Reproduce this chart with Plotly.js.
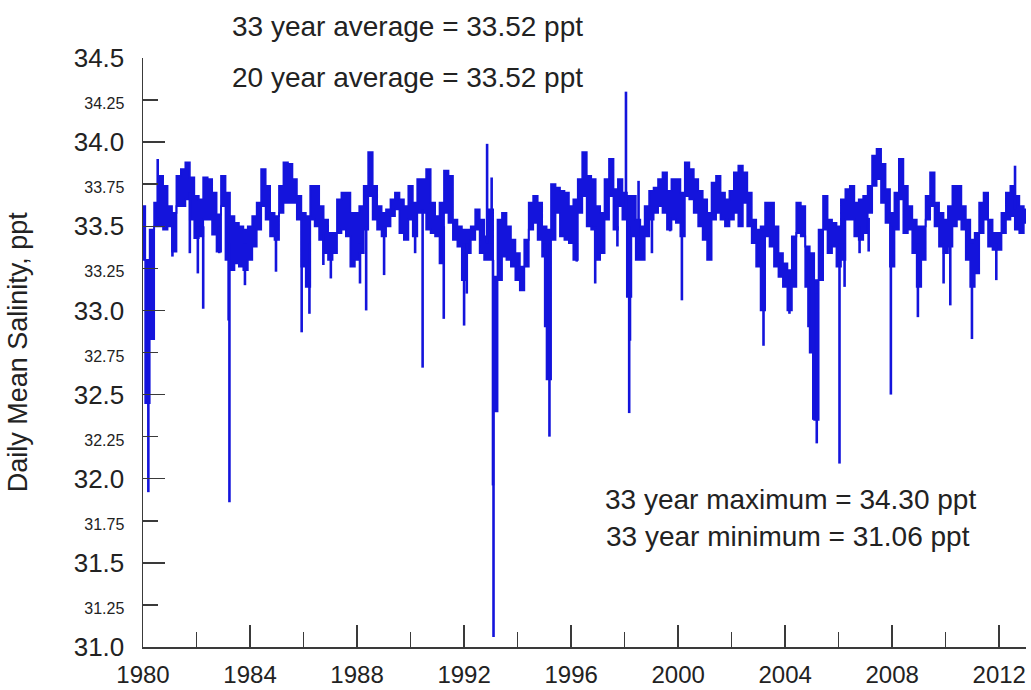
<!DOCTYPE html>
<html>
<head>
<meta charset="utf-8">
<script src="https://cdn.plot.ly/plotly-3.0.1.min.js"></script>
<style>
html,body{margin:0;padding:0;background:#fff;}
#chart{width:1031px;height:690px;}
</style>
</head>
<body>
<div id="chart"></div>
<script>
// ---- Data ----
// Band of daily values sampled every 2 months starting 1980.0 : upper and lower envelope (ppt)
const startYear = 1980;
const sampleStep = 1/6;
const bandHigh = [
  33.62,33.30,33.48,33.64,33.80,33.74,
  33.62,33.58,33.80,33.84,33.88,33.79,
  33.68,33.66,33.79,33.78,33.70,33.57,
  33.80,33.70,33.56,33.52,33.50,33.48,
  33.50,33.56,33.64,33.84,33.74,33.58,
  33.56,33.74,33.88,33.87,33.78,33.68,
  33.58,33.56,33.74,33.74,33.62,33.54,
  33.46,33.46,33.66,33.70,33.70,33.58,
  33.58,33.62,33.74,33.94,33.74,33.62,
  33.58,33.60,33.66,33.70,33.66,33.62,
  33.74,33.64,33.78,33.78,33.84,33.64,
  33.56,33.64,33.83,33.80,33.54,33.50,
  33.48,33.48,33.50,33.60,33.54,33.44,
  33.60,33.20,33.54,33.58,33.50,33.42,
  33.34,33.26,33.42,33.64,33.68,33.64,
  33.50,33.48,33.75,33.73,33.71,33.70,
  33.62,33.66,33.78,33.94,33.80,33.78,
  33.62,33.58,33.78,33.90,33.72,33.78,
  33.70,33.68,33.68,33.54,33.50,33.62,
  33.71,33.73,33.78,33.82,33.71,33.78,
  33.78,33.70,33.88,33.84,33.78,33.71,
  33.66,33.58,33.76,33.80,33.70,33.66,
  33.71,33.82,33.86,33.82,33.70,33.54,
  33.48,33.50,33.64,33.64,33.50,33.34,
  33.28,33.24,33.44,33.64,33.62,33.38,
  33.34,33.18,33.48,33.68,33.54,33.52,
  33.50,33.66,33.72,33.74,33.64,33.66,
  33.68,33.74,33.92,33.96,33.87,33.72,
  33.58,33.70,33.90,33.74,33.62,33.54,
  33.50,33.50,33.68,33.82,33.64,33.58,
  33.54,33.62,33.74,33.74,33.62,33.54,
  33.42,33.46,33.64,33.70,33.54,33.46,
  33.46,33.58,33.70,33.74,33.68,33.62,
  33.60
];
const bandLow = [
  33.30,32.45,32.83,33.50,33.50,33.48,
  33.50,33.35,33.62,33.62,33.66,33.54,
  33.43,33.44,33.54,33.54,33.45,33.35,
  33.62,33.30,33.24,33.28,33.26,33.24,
  33.30,33.38,33.48,33.62,33.54,33.44,
  33.42,33.58,33.64,33.64,33.64,33.54,
  33.26,33.14,33.54,33.50,33.42,33.34,
  33.30,33.34,33.46,33.48,33.44,33.26,
  33.30,33.34,33.48,33.68,33.54,33.48,
  33.44,33.50,33.56,33.60,33.46,33.42,
  33.54,33.44,33.58,33.58,33.48,33.46,
  33.44,33.28,33.58,33.52,33.42,33.38,
  33.18,33.34,33.42,33.48,33.34,33.30,
  33.30,32.40,33.18,33.32,33.30,33.26,
  33.18,33.12,33.26,33.48,33.52,33.42,
  33.32,32.59,33.42,33.58,33.44,33.42,
  33.40,33.30,33.58,33.68,33.50,33.48,
  33.30,33.34,33.54,33.68,33.48,33.62,
  33.54,33.08,33.44,33.30,33.30,33.44,
  33.54,33.58,33.62,33.58,33.48,33.54,
  33.52,33.44,33.68,33.66,33.58,33.50,
  33.42,33.30,33.54,33.58,33.54,33.50,
  33.54,33.58,33.50,33.64,33.50,33.40,
  33.26,33.00,33.44,33.38,33.26,33.20,
  33.14,33.00,33.14,33.46,33.44,33.14,
  32.75,32.35,33.18,33.48,33.34,33.38,
  33.26,33.30,33.54,33.54,33.44,33.42,
  33.46,33.58,33.74,33.78,33.64,33.52,
  33.26,33.48,33.66,33.46,33.48,33.34,
  33.14,33.30,33.54,33.62,33.50,33.38,
  33.34,33.38,33.50,33.54,33.48,33.30,
  33.14,33.22,33.46,33.54,33.38,33.36,
  33.36,33.46,33.54,33.56,33.48,33.46,
  33.52
];
// Short-lived excursions (spikes): time, value they leave from, extreme value reached
const spikeYears = [1980.20,1980.55,1981.10,1981.75,1982.05,1982.25,1982.85,1983.20,1983.23,1983.81,
  1984.97,1985.93,1986.22,1986.74,1987.02,1988.11,1988.34,1989.01,1990.17,1990.45,
  1991.24,1992.00,1992.10,1992.86,1993.03,1993.08,1993.10,1993.15,1995.03,1995.19,
  1996.21,1996.90,1997.73,1998.05,1998.17,1998.20,1998.52,1999.02,1999.70,2000.14,
  2001.20,2003.19,2004.16,2004.87,2005.05,2005.18,2006.03,2006.22,2006.78,2007.12,
  2007.95,2008.96,2009.92,2010.17,2010.98,2011.89,2012.59];
const spikeFrom = [33.30,33.55,33.55,33.70,33.50,33.50,33.50,33.50,33.40,33.40,
  33.45,33.55,33.40,33.45,33.35,33.40,33.50,33.50,33.50,33.60,
  33.50,33.40,33.40,33.40,33.40,33.30,33.00,33.20,33.40,33.40,
  33.40,33.50,33.50,33.60,33.50,33.40,33.40,33.55,33.55,33.50,
  33.45,33.30,33.20,33.30,33.20,33.10,33.40,33.40,33.50,33.55,
  33.50,33.40,33.40,33.45,33.40,33.40,33.60];
const spikeTo = [31.92,33.90,33.32,33.34,33.22,33.01,33.34,32.94,31.86,33.15,
  33.23,32.87,32.98,33.27,33.19,33.16,33.00,33.21,33.34,32.66,
  32.95,32.91,33.10,33.99,33.79,31.96,31.06,32.41,32.90,32.25,
  33.29,33.16,33.38,34.30,32.39,32.82,33.77,33.34,33.47,33.06,
  33.30,32.79,32.98,32.90,32.35,32.21,32.09,33.14,33.34,33.35,
  32.50,32.96,33.16,33.03,32.83,33.18,33.86];

const yTickVals = [31,31.25,31.5,31.75,32,32.25,32.5,32.75,33,33.25,33.5,33.75,34,34.25,34.5];
const yMajorVals = [31,31.5,32,32.5,33,33.5,34,34.5];
const noteTop = ["33 year average = 33.52 ppt","20 year average = 33.52 ppt"];
const noteBottom = ["33 year maximum = 34.30 ppt","33 year minimum = 31.06 ppt"];
const yTitle = "Daily Mean Salinity, ppt";

// ---- Build traces ----
const blue = '#1414dc';
const bandX = bandHigh.map((_, i) => startYear + i * sampleStep);
const sx = [], sy = [];
spikeYears.forEach((t, i) => { sx.push(t, t, null); sy.push(spikeFrom[i], spikeTo[i], null); });

const yTickText = yTickVals.map(v => {
  const major = Math.abs(v * 2 - Math.round(v * 2)) < 1e-9;
  return major ? v.toFixed(1) : '<span style="font-size:16px">' + v.toFixed(2) + '</span>';
});

const traces = [
  {x: bandX, y: bandLow, mode: 'lines', line: {color: blue, width: 1.8, shape: 'hvh'}, hoverinfo: 'skip', showlegend: false},
  {x: bandX, y: bandHigh, mode: 'lines', fill: 'tonexty', fillcolor: blue, line: {color: blue, width: 1.8, shape: 'hvh'}, hoverinfo: 'skip', showlegend: false},
  {x: sx, y: sy, mode: 'lines', line: {color: blue, width: 2.6}, connectgaps: false, yaxis: 'y2', hoverinfo: 'skip', showlegend: false}
];

const axisColor = '#3a3a3a';
const txt = {family: 'Liberation Sans, Arial, sans-serif', color: '#222'};

const layout = {
  width: 1031, height: 690,
  margin: {l: 143, r: 5, t: 58, b: 43},
  paper_bgcolor: '#fff', plot_bgcolor: '#fff',
  font: txt,
  showlegend: false,
  xaxis: {
    range: [1980, 2013], tick0: 1980, dtick: 4,
    ticks: 'inside', ticklen: 22, tickwidth: 1.5, tickcolor: axisColor,
    showline: true, linecolor: axisColor, linewidth: 1.5,
    showgrid: false, zeroline: false,
    tickfont: Object.assign({size: 24}, txt),
    ticklabelstandoff: 6,
    minor: {tick0: 1980, dtick: 2, ticks: 'inside', ticklen: 15, tickwidth: 1.5, tickcolor: axisColor, showgrid: false},
    fixedrange: true
  },
  yaxis: {
    range: [31, 34.5], tickmode: 'array', tickvals: yTickVals, ticktext: yTickText,
    ticks: 'inside', ticklen: 15, tickwidth: 1.5, tickcolor: axisColor,
    showline: true, linecolor: axisColor, linewidth: 1.5,
    showgrid: false, zeroline: false,
    tickfont: Object.assign({size: 26}, txt),
    ticklabelstandoff: 12,
    fixedrange: true
  },
  yaxis2: {
    overlaying: 'y', side: 'left', anchor: 'x',
    range: [31, 34.5], tickmode: 'array', tickvals: yMajorVals,
    ticks: 'inside', ticklen: 22, tickwidth: 1.5, tickcolor: axisColor,
    showticklabels: false, showline: false, showgrid: false, zeroline: false,
    fixedrange: true
  },
  annotations: [
    {text: noteTop[0], xref: 'paper', yref: 'paper', x: 0.300, y: 1.054, xanchor: 'center', yanchor: 'middle', showarrow: false, font: Object.assign({size: 28}, txt)},
    {text: noteTop[1], xref: 'paper', yref: 'paper', x: 0.300, y: 0.967, xanchor: 'center', yanchor: 'middle', showarrow: false, font: Object.assign({size: 28}, txt)},
    {text: noteBottom[0], xref: 'paper', yref: 'paper', x: 0.733, y: 0.251, xanchor: 'center', yanchor: 'middle', showarrow: false, font: Object.assign({size: 28}, txt)},
    {text: noteBottom[1], xref: 'paper', yref: 'paper', x: 0.731, y: 0.187, xanchor: 'center', yanchor: 'middle', showarrow: false, font: Object.assign({size: 28}, txt)},
    {text: yTitle, xref: 'paper', yref: 'paper', x: -0.1416, y: 0.502, xanchor: 'center', yanchor: 'middle', textangle: -90, showarrow: false, font: Object.assign({size: 27}, txt)}
  ]
};

Plotly.newPlot('chart', traces, layout, {displayModeBar: false, staticPlot: true});
</script>
</body>
</html>
